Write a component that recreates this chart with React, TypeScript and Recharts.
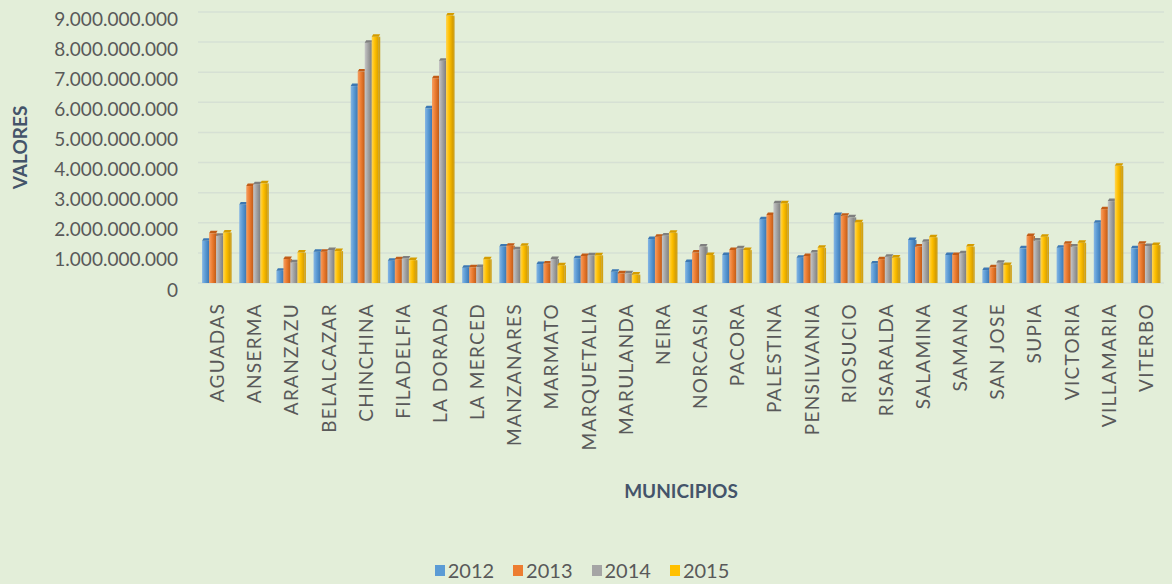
import React from 'react';
import { BarChart, Bar, XAxis, YAxis, CartesianGrid, Legend, Label } from 'recharts';

const municipios = [
  'AGUADAS', 'ANSERMA', 'ARANZAZU', 'BELALCAZAR', 'CHINCHINA', 'FILADELFIA', 'LA DORADA',
  'LA MERCED', 'MANZANARES', 'MARMATO', 'MARQUETALIA', 'MARULANDA', 'NEIRA', 'NORCASIA',
  'PACORA', 'PALESTINA', 'PENSILVANIA', 'RIOSUCIO', 'RISARALDA', 'SALAMINA', 'SAMANA',
  'SAN JOSE', 'SUPIA', 'VICTORIA', 'VILLAMARIA', 'VITERBO',
];

const valores2012 = [
  1400000000, 2610000000, 410000000, 1040000000, 6540000000, 740000000, 5800000000,
  510000000, 1210000000, 630000000, 820000000, 370000000, 1460000000, 700000000,
  930000000, 2120000000, 840000000, 2260000000, 650000000, 1430000000, 930000000,
  430000000, 1150000000, 1170000000, 2000000000, 1150000000,
];
const valores2013 = [
  1650000000, 3220000000, 800000000, 1040000000, 7020000000, 790000000, 6800000000,
  520000000, 1240000000, 650000000, 900000000, 320000000, 1540000000, 1010000000,
  1100000000, 2260000000, 900000000, 2230000000, 790000000, 1210000000, 930000000,
  520000000, 1560000000, 1300000000, 2450000000, 1300000000,
];
const valores2014 = [
  1570000000, 3280000000, 690000000, 1100000000, 7980000000, 810000000, 7380000000,
  530000000, 1120000000, 800000000, 920000000, 320000000, 1580000000, 1210000000,
  1150000000, 2650000000, 1010000000, 2180000000, 870000000, 1370000000, 990000000,
  670000000, 1410000000, 1210000000, 2720000000, 1230000000,
];
const valores2015 = [
  1680000000, 3310000000, 1010000000, 1060000000, 8180000000, 760000000, 8880000000,
  790000000, 1240000000, 590000000, 920000000, 280000000, 1670000000, 930000000,
  1100000000, 2650000000, 1170000000, 2020000000, 850000000, 1520000000, 1210000000,
  600000000, 1540000000, 1340000000, 3890000000, 1260000000,
];

const yTicks = [0, 1e9, 2e9, 3e9, 4e9, 5e9, 6e9, 7e9, 8e9, 9e9];

const series = [
  { key: 'y2012', name: '2012', color: '#5b9bd5', light: '#86b6e4', dark: '#3d78b3' },
  { key: 'y2013', name: '2013', color: '#ed7d31', light: '#f59f63', dark: '#c25c17' },
  { key: 'y2014', name: '2014', color: '#a5a5a5', light: '#c6c6c6', dark: '#7f7f7f' },
  { key: 'y2015', name: '2015', color: '#ffc000', light: '#ffd555', dark: '#d49c00' },
];

const data = municipios.map((m, i) => ({
  name: m,
  y2012: valores2012[i],
  y2013: valores2013[i],
  y2014: valores2014[i],
  y2015: valores2015[i],
}));

const fmt = (v: number) => String(v).replace(/\B(?=(\d{3})+(?!\d))/g, '.');

const FONT = 'Lato, "Open Sans", sans-serif';

// bar with a bit of a 3D look: side shading + darker top cap
const Bar3D = (props: any) => {
  const { x, y, width, height, gid, dark } = props;
  if (!height || height <= 0) return null;
  const cap = 2.5;
  return (
    <g>
      <rect x={x + 1.5} y={y + 1} width={width} height={height - 1} fill="#000" opacity={0.12} />
      <rect x={x} y={y} width={width} height={height} fill={`url(#${gid})`} />
      <polygon
        points={`${x},${y} ${x + 1.5},${y - cap} ${x + width + 1.5},${y - cap} ${x + width},${y}`}
        fill={dark}
      />
      <rect x={x + width} y={y} width={1.5} height={height} fill={dark} opacity={0.9} />
    </g>
  );
};

const XTick = (props: any) => {
  const { x, y, payload } = props;
  const ty = y + 12;
  return (
    <text
      x={x}
      y={ty}
      transform={`rotate(-90, ${x}, ${ty})`}
      textAnchor="end"
      dominantBaseline="central"
      fill="#595959"
      fontSize={19}
      fontFamily={FONT}
      letterSpacing={1.3}
    >
      {payload.value}
    </text>
  );
};

const YTick = (props: any) => {
  const { x, y, payload } = props;
  return (
    <text x={x} y={y + 6} textAnchor="end" dominantBaseline="central" fill="#595959" fontSize={19} fontFamily={FONT}>
      {fmt(payload.value)}
    </text>
  );
};

const renderLegend = () => (
  <div style={{ display: 'flex', justifyContent: 'center', gap: 19, fontFamily: FONT, fontSize: 20, color: '#595959' }}>
    {series.map(s => (
      <div key={s.key} style={{ display: 'flex', alignItems: 'center' }}>
        <span style={{ display: 'inline-block', width: 10, height: 11, background: s.color, marginRight: 3 }} />
        <span>{s.name}</span>
      </div>
    ))}
  </div>
);

export default function App() {
  return (
    <div style={{ position: 'absolute', left: 0, top: 0, width: 1172, height: 584, background: '#e3eed9' }}>
      <BarChart
        width={1172}
        height={584}
        data={data}
        margin={{ top: 12, right: 8, left: 0, bottom: 6 }}
        barGap={0}
        barCategoryGap="11%"
      >
        <defs>
          {series.map(s => (
            <linearGradient key={s.key} id={`g-${s.key}`} x1="0" y1="0" x2="1" y2="0">
              <stop offset="0%" stopColor={s.light} />
              <stop offset="45%" stopColor={s.color} />
              <stop offset="100%" stopColor={s.dark} />
            </linearGradient>
          ))}
        </defs>
        <CartesianGrid vertical={false} stroke="#d6e0d4" strokeWidth={1.5} />
        <XAxis
          dataKey="name"
          interval={0}
          tick={<XTick />}
          tickLine={false}
          axisLine={false}
          height={271}
        >
          <Label
            value="MUNICIPIOS"
            position="insideBottom"
            offset={56}
            style={{ fontFamily: FONT, fontSize: 19, fontWeight: 700, fill: '#44546a' }}
          />
        </XAxis>
        <YAxis
          domain={[0, 9e9]}
          ticks={yTicks}
          width={198}
          tick={<YTick />}
          tickLine={false}
          tickSize={0}
          tickMargin={20}
          axisLine={false}
        >
          <Label
            value="VALORES"
            angle={-90}
            position="insideLeft"
            offset={20}
            style={{ fontFamily: FONT, fontSize: 19, fontWeight: 700, fill: '#44546a', textAnchor: 'middle' }}
          />
        </YAxis>
        <Legend verticalAlign="bottom" content={renderLegend} wrapperStyle={{ bottom: 2 }} />
        {series.map(s => (
          <Bar
            key={s.key}
            dataKey={s.key}
            name={s.name}
            fill={s.color}
            isAnimationActive={false}
            shape={(p: any) => <Bar3D {...p} gid={`g-${s.key}`} dark={s.dark} />}
          />
        ))}
      </BarChart>
    </div>
  );
}
